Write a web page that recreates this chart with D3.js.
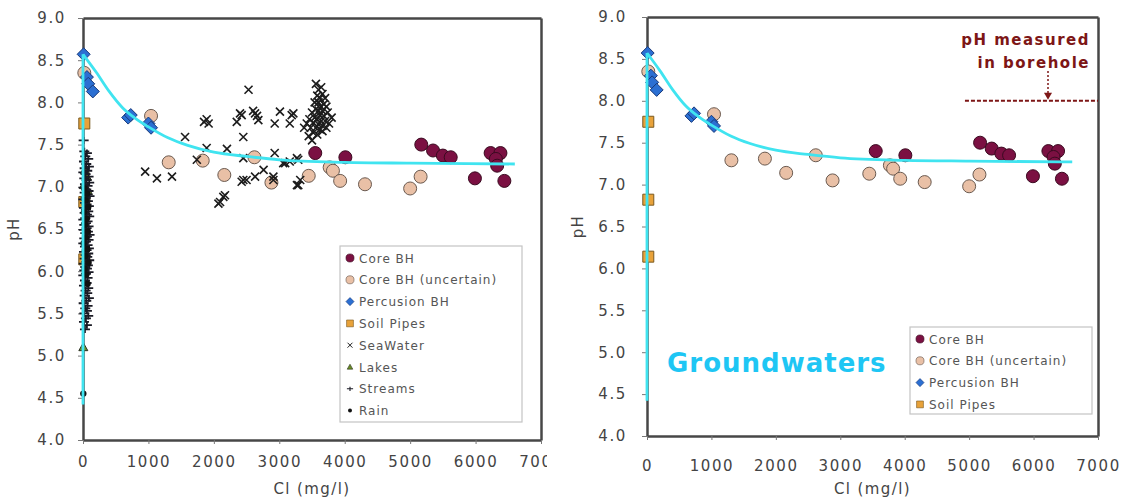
<!DOCTYPE html>
<html>
<head>
<meta charset="utf-8">
<script src="https://cdn.jsdelivr.net/npm/d3@7"></script>
<style>
  body { margin: 0; background: #fff; }
  svg { display: block; font-family: "DejaVu Sans", Verdana, sans-serif; }
</style>
</head>
<body>
<svg id="chart" width="1133" height="500"></svg>
<script>
// ---- data: [Cl (mg/l), pH] ----
const coreBH = [[3550,7.40],[4010,7.35],[5170,7.50],[5350,7.43],[5500,7.37],[5620,7.35],
  [6230,7.40],[6380,7.40],[6310,7.33],[6330,7.25],[5990,7.10],[6440,7.07]];
const coreBHUncertain = [[20,8.35],[1040,7.84],[1310,7.29],[1830,7.31],[2160,7.14],[2620,7.35],
  [2880,7.05],[3450,7.13],[3770,7.23],[3820,7.19],[3930,7.07],[4310,7.03],[5160,7.12],[5000,6.98]];
const percussionBH = [[10,8.57],[60,8.30],[80,8.22],[150,8.13],[690,7.82],[730,7.85],[1000,7.75],[1040,7.70]];
const soilPipes = [[20,7.75],[20,6.82],[20,6.14]];
const seaWater = [
  [950,7.18],[1130,7.10],[1360,7.12],[1560,7.59],[1740,7.32],[1850,7.77],[1890,7.80],[1920,7.75],
  [1890,7.46],[2200,7.45],[2095,6.82],[2145,6.88],[2170,6.90],[2070,6.80],[2350,7.77],[2400,7.87],
  [2425,7.85],[2450,7.59],[2450,7.34],[2450,7.08],[2425,7.06],[2500,7.08],[2530,8.15],[2630,7.87],
  [2600,7.90],[2660,7.84],[2680,7.79],[2630,7.12],[2760,7.20],[2910,7.12],[2930,7.75],[3010,7.89],
  [3190,7.85],[3215,7.87],[3160,7.75],[2930,7.40],[3060,7.28],[3090,7.28],[3160,7.30],[3270,7.34],
  [3290,7.32],[3270,7.02],[3320,7.08],[2910,7.08],[3290,7.02],
  [3560,8.22],[3600,8.15],[3640,8.18],[3580,8.08],[3660,8.10],[3620,8.05],[3700,8.05],[3540,8.00],
  [3600,8.00],[3680,7.98],[3640,7.95],[3720,7.95],[3560,7.92],[3600,7.90],[3660,7.90],[3500,7.88],
  [3740,7.88],[3620,7.85],[3680,7.84],[3540,7.82],[3580,7.80],[3460,7.80],[3640,7.78],[3700,7.78],
  [3520,7.76],[3600,7.74],[3420,7.75],[3660,7.72],[3480,7.70],[3560,7.70],[3620,7.68],[3380,7.70],
  [3520,7.64],[3580,7.62],[3450,7.60],[3760,7.75],[3800,7.82],[3500,7.55],[3660,7.66],[3720,7.70]];
const lakes = [[30,7.20],[60,7.12],[15,7.02],[75,6.95],[40,6.88],[5,5.10]];
const streams = [
  [10,7.55],[20,7.42],[60,7.40],[35,7.36],[80,7.33],[15,7.30],[50,7.27],[90,7.24],[25,7.22],[65,7.19],
  [5,7.17],[40,7.15],[85,7.12],[20,7.10],[55,7.08],[95,7.05],[30,7.03],[70,7.01],[10,6.99],[50,6.97],
  [85,6.95],[25,6.93],[65,6.91],[100,6.89],[40,6.87],[5,6.85],[75,6.83],[30,6.81],[55,6.79],[90,6.77],
  [15,6.75],[45,6.73],[80,6.71],[25,6.69],[60,6.67],[95,6.65],[35,6.63],[5,6.61],[70,6.59],[45,6.57],
  [20,6.55],[85,6.53],[55,6.51],[10,6.49],[75,6.47],[35,6.45],[100,6.43],[60,6.41],[20,6.39],[85,6.37],
  [45,6.35],[5,6.33],[70,6.31],[30,6.29],[90,6.27],[55,6.25],[15,6.23],[80,6.21],[40,6.19],[65,6.17],
  [25,6.15],[95,6.13],[50,6.11],[10,6.09],[75,6.07],[35,6.05],[60,6.03],[20,6.01],[85,5.99],[45,5.97],
  [5,5.95],[70,5.92],[30,5.89],[55,5.86],[15,5.83],[80,5.80],[40,5.77],[65,5.74],[25,5.71],[90,5.68],
  [50,5.65],[10,5.62],[70,5.59],[35,5.56],[60,5.53],[20,5.50],[80,5.47],[45,5.44],[15,5.40],[60,5.36],
  [30,5.31]];
const rain = [[20,6.98],[60,6.92],[40,6.84],[80,6.76],[15,6.70],[55,6.62],[30,6.55],[75,6.47],[45,6.40],
  [10,6.33],[65,6.26],[35,6.18],[85,6.10],[25,6.03],[50,5.96],[70,5.85],[5,4.55]];
// fitted groundwater trend
const trendRise = [[0,4.42],[0,8.57]];
const trendDecay = [[0,8.57],[200,8.36],[400,8.13],[600,7.94],[800,7.81],[1000,7.71],[1300,7.58],
  [1600,7.49],[2000,7.41],[2500,7.36],[3000,7.32],[4000,7.29],[5000,7.28],[6600,7.27]];

const yTicks = [4.0,4.5,5.0,5.5,6.0,6.5,7.0,7.5,8.0,8.5,9.0];
const xTicks = [0,1000,2000,3000,4000,5000,6000,7000];
const xTitle = "Cl (mg/l)";
const yTitle = "pH";
const legendAll = ["Core BH","Core BH (uncertain)","Percusion BH","Soil Pipes","SeaWater","Lakes","Streams","Rain"];
const legendGW = ["Core BH","Core BH (uncertain)","Percusion BH","Soil Pipes"];

const svg = d3.select("#chart");

// ---- marker painters ----
const markers = {
  "Core BH": (g) => g.append("circle").attr("r", 6.5).attr("fill", "#7b1042").attr("stroke", "#3a0a20").attr("stroke-width", 1),
  "Core BH (uncertain)": (g) => g.append("circle").attr("r", 6.5).attr("fill", "#e9c0a6").attr("stroke", "#6a5a50").attr("stroke-width", 1),
  "Percusion BH": (g) => g.append("path").attr("d", "M0,-6.5L6.5,0L0,6.5L-6.5,0Z").attr("fill", "#2b6fd2").attr("stroke", "#1a3a7a").attr("stroke-width", 1),
  "Soil Pipes": (g) => g.append("path").attr("d", "M-5.5,-5.5H5.5V5.5H-5.5Z").attr("fill", "#e8a23a").attr("stroke", "#7a5a20").attr("stroke-width", 1),
  "SeaWater": (g) => g.append("path").attr("d", "M-4,-4L4,4M-4,4L4,-4").attr("stroke", "#1c1c1c").attr("stroke-width", 1.6).attr("fill", "none"),
  "Lakes": (g) => g.append("path").attr("d", "M0,-4.5L4.5,3.5L-4.5,3.5Z").attr("fill", "#6b8e23").attr("stroke", "#2a3020").attr("stroke-width", 1),
  "Streams": (g) => g.append("path").attr("d", "M-5,0L5,0M0,-3.5L0,3.5").attr("stroke", "#1a1a24").attr("stroke-width", 1.8).attr("fill", "none"),
  "Rain": (g) => g.append("circle").attr("r", 3.2).attr("fill", "#111")
};
const seriesData = {
  "Core BH": coreBH, "Core BH (uncertain)": coreBHUncertain, "Percusion BH": percussionBH,
  "Soil Pipes": soilPipes, "SeaWater": seaWater, "Lakes": lakes, "Streams": streams, "Rain": rain
};

function styleAxis(a) {
  a.select(".domain").attr("stroke", "#474747").attr("stroke-width", 2.5);
  a.selectAll(".tick line").attr("stroke", "#777");
  a.selectAll(".tick text").attr("fill", "#444").style("font-size", "15px")
    .style("font-family", '"DejaVu Sans", Verdana, sans-serif').style("letter-spacing", "1.6px");
}

function panel(cfg) {
  const x = d3.scaleLinear().domain([0, 7000]).range([cfg.left, cfg.right]);
  const y = d3.scaleLinear().domain([4, 9]).range([cfg.bottom, cfg.top]);
  const root = svg.append("g");
  if (cfg.clip) {
    root.append("clipPath").attr("id", cfg.clip.id)
      .append("rect").attr("x", 0).attr("y", 0).attr("width", cfg.clip.w).attr("height", 500);
    root.attr("clip-path", `url(#${cfg.clip.id})`);
  }

  // frame: all four sides come from axis domain lines
  const topAxis = root.append("g").attr("transform", `translate(0,${cfg.top})`)
    .call(d3.axisTop(x).tickValues([]).tickSizeOuter(0));
  const rightAxis = root.append("g").attr("transform", `translate(${cfg.right},0)`)
    .call(d3.axisRight(y).tickValues([]).tickSizeOuter(0));
  const yAxis = root.append("g").attr("transform", `translate(${cfg.left},0)`)
    .call(d3.axisLeft(y).tickValues(yTicks).tickFormat(d3.format(".1f")).tickSize(5).tickSizeOuter(0).tickPadding(cfg.yPad));
  const xAxis = root.append("g").attr("transform", `translate(0,${cfg.bottom})`)
    .call(d3.axisBottom(x).tickValues(xTicks).tickFormat(d3.format("d")).tickSize(4).tickSizeOuter(0).tickPadding(cfg.xPad));
  [topAxis, rightAxis, yAxis, xAxis].forEach(styleAxis);

  // axis titles
  root.append("text").attr("x", (cfg.left + cfg.right) / 2).attr("y", 494)
    .attr("text-anchor", "middle").attr("fill", "#444").style("font-size", "15px")
    .style("letter-spacing", "1.4px").text(xTitle);
  root.append("text").attr("transform", `translate(${cfg.left - 64},${(cfg.top + cfg.bottom) / 2}) rotate(-90)`)
    .attr("text-anchor", "middle").attr("fill", "#444").style("font-size", "15px")
    .style("letter-spacing", "1.4px").text(yTitle);

  // series, in legend order (later drawn on top)
  const plot = root.append("g");
  cfg.series.forEach(name => {
    seriesData[name].forEach(d => {
      const g = plot.append("g").attr("transform", `translate(${x(d[0])},${y(d[1])})`);
      markers[name](g);
    });
  });

  // trend curve
  const line = d3.line().x(d => x(d[0])).y(d => y(d[1]));
  plot.append("path").attr("d", line(trendRise)).attr("fill", "none")
    .attr("stroke", "#40e4f0").attr("stroke-width", 2.8);
  plot.append("path").attr("d", line.curve(d3.curveMonotoneX)(trendDecay)).attr("fill", "none")
    .attr("stroke", "#40e4f0").attr("stroke-width", 2.8);

  // legend
  const L = cfg.legend;
  const lg = root.append("g");
  lg.append("rect").attr("x", L.x).attr("y", L.y).attr("width", L.w).attr("height", L.h)
    .attr("fill", "#fff").attr("stroke", "#c4c4c4").attr("stroke-width", 1.2);
  cfg.series.forEach((name, i) => {
    const cy = L.y + 12 + i * 21.8;
    const mg = lg.append("g").attr("transform", `translate(${L.x + 10},${cy}) scale(0.62)`);
    markers[name](mg);
    lg.append("text").attr("x", L.x + 19).attr("y", cy + 4.5)
      .attr("fill", "#555").style("font-size", "12px").style("letter-spacing", "1px").text(name);
  });

  return { x, y, root };
}

// left panel: all waters
panel({
  left: 83, right: 541, top: 18, bottom: 440, yPad: 12, xPad: 12,
  series: legendAll,
  legend: { x: 340, y: 246, w: 182, h: 176 },
  clip: { id: "clipLeft", w: 547 }
});

// right panel: groundwaters only
const right = panel({
  left: 647, right: 1098, top: 17, bottom: 436, yPad: 15, xPad: 20,
  series: legendGW,
  legend: { x: 910, y: 327, w: 182, h: 87 }
});

// "Groundwaters" label
right.root.append("text").attr("x", 667).attr("y", 372)
  .attr("fill", "#1ec6f4").style("font-size", "26px").style("font-weight", "bold")
  .style("letter-spacing", "1px").text("Groundwaters");

// borehole pH annotation
const ann = right.root.append("g");
const red = "#7d1616";
ann.append("text").attr("x", 1090).attr("y", 45).attr("text-anchor", "end")
  .attr("fill", red).style("font-size", "15px").style("font-weight", "bold")
  .style("letter-spacing", "1.5px").text("pH measured");
ann.append("text").attr("x", 1090).attr("y", 68).attr("text-anchor", "end")
  .attr("fill", red).style("font-size", "15px").style("font-weight", "bold")
  .style("letter-spacing", "1.5px").text("in borehole");
ann.append("line").attr("x1", right.x(4935)).attr("x2", right.x(7000))
  .attr("y1", right.y(8.0)).attr("y2", right.y(8.0))
  .attr("stroke", red).attr("stroke-width", 2).attr("stroke-dasharray", "4,2");
const ax = right.x(6224);
ann.append("line").attr("x1", ax).attr("x2", ax).attr("y1", 71).attr("y2", right.y(8.0) - 6)
  .attr("stroke", red).attr("stroke-width", 1.5).attr("stroke-dasharray", "2,2");
ann.append("path").attr("d", `M${ax - 4},${right.y(8.0) - 8}L${ax + 4},${right.y(8.0) - 8}L${ax},${right.y(8.0) - 1}Z`)
  .attr("fill", red);
</script>
</body>
</html>
